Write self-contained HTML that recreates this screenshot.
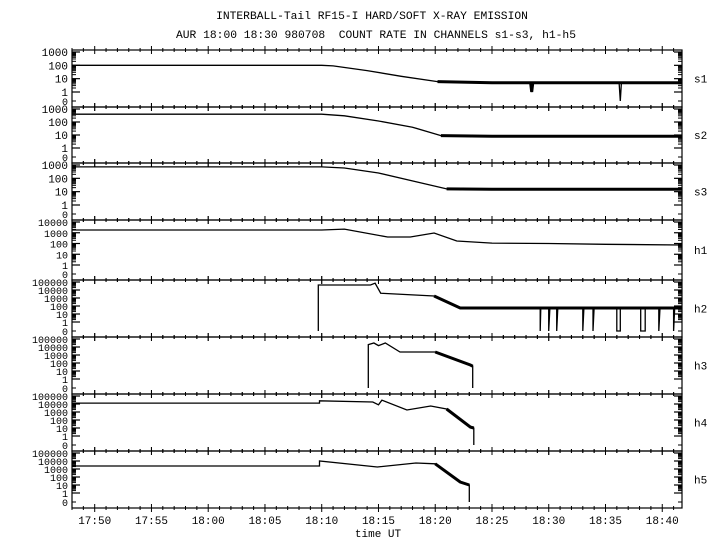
<!DOCTYPE html>
<html><head><meta charset="utf-8"><style>
html,body{margin:0;padding:0;background:#fff}
svg{display:block;font-family:"Liberation Mono","DejaVu Sans Mono",monospace}
</style></head><body>
<svg id="chart" width="720" height="550" viewBox="0 0 720 550" xmlns="http://www.w3.org/2000/svg">
<rect width="720" height="550" fill="#fff"/>
<text x="372" y="19" font-size="11.3" text-anchor="middle">INTERBALL-Tail RF15-I HARD/SOFT X-RAY EMISSION</text>
<text x="376" y="38" font-size="11.3" text-anchor="middle" xml:space="preserve">AUR 18:00 18:30 980708  COUNT RATE IN CHANNELS s1-s3, h1-h5</text>
<text x="378" y="537" font-size="11" text-anchor="middle">time UT</text>
<g id="plots"></g>
</svg>
<script>
// time axis: minutes relative to 18:00
const xTickLabels = ["17:50","17:55","18:00","18:05","18:10","18:15","18:20","18:25","18:30","18:35","18:40"];
const xTickMinutes = [-10,-5,0,5,10,15,20,25,30,35,40];
const channels = ["s1","s2","s3","h1","h2","h3","h4","h5"];
const decades = [3,3,3,4,5,5,5,5];
// each series: [minute, count] points
const s1T = [-12,10,11,14,17,20.2,25,28.4,28.5,28.6,30,36.2,36.3,36.4,41.7];
const s1V = [100,100,90,40,15,6,5,5,1,5,5,5,0,5,5];
const s2T = [-12,10,12,15,18,20.5,25,30,35,41.7];
const s2V = [400,400,300,120,40,9,8,8,8,8];
const s3T = [-12,10,12,15,18.5,21,25,30,35,41.7];
const s3V = [720,720,600,250,50,16,15,15,15,15];
const h1T = [-12,10,12,15.8,17.8,19.9,21.9,25,30,35,41.7];
const h1V = [1800,1800,2200,400,400,950,170,110,100,85,72];
const h2T = [9.7,9.7,14.3,14.7,15.2,19.9,22.2,25,29.25,29.25,29.3,30.0,30.0,30.1,30.7,30.7,30.8,33.0,33.0,33.1,33.9,33.9,34.0,36.0,36.0,36.3,36.3,36.4,38.1,38.1,38.5,38.5,38.6,39.7,39.7,39.8,41.0,41.0,41.1,41.7];
const h2V = [0,42000,42000,70000,4000,1800,56,56,56,0,56,56,0,56,56,0,56,56,0,56,56,0,56,56,0,0,56,56,56,0,0,56,56,56,0,56,56,0,56,56];
const h3T = [14.1,14.1,14.6,15.0,15.6,16.9,20,23.1,23.3,23.3];
const h3V = [0,20000,32000,15000,32000,2400,2400,56,40,0];
const h4T = [-12,9.8,9.8,14.5,15.0,15.3,17.5,19.6,21,23.1,23.4,23.4];
const h4V = [13000,13000,25000,18000,8000,30000,1800,5600,2400,13,10,0];
const h5T = [-12,9.8,9.8,14.9,18.3,20,22.2,23.0,23.0];
const h5V = [2400,2400,10000,1800,5600,4500,24,10,0];
const seriesT = [s1T,s2T,s3T,h1T,h2T,h3T,h4T,h5T];
const seriesV = [s1V,s2V,s3V,h1V,h2V,h3V,h4V,h5V];
// noisy region start (minutes) per channel (drawn with thicker band)
const noisyFrom = [20,20.5,21,99,19,20,20,20];

const NS="http://www.w3.org/2000/svg";
const panelTops=[50,107,163,220,280,337,394,451,508];
const X0=72,X1=682,T0=-12,T1=41.74;
function xs(t){return X0+(t-T0)*(X1-X0)/(T1-T0);}
function ys(p,v){
  const top=panelTops[p],bot=panelTops[p+1],n=decades[p];
  const yTopV=top+2,y1=bot-15,y0=bot-6;
  if(v<=0)return y0;
  if(v<1)return y0-(y0-y1)*v;
  return y1-(y1-yTopV)*Math.log10(v)/n;
}
function el(tag,attrs,parent){const e=document.createElementNS(NS,tag);for(const k in attrs)e.setAttribute(k,attrs[k]);parent.appendChild(e);return e;}
const root=document.getElementById('plots');

channels.forEach((ch,p)=>{
  const g=el('g',{},root);
  
  
  const top=panelTops[p],bot=panelTops[p+1];
  const frame=el('rect',{x:X0,y:top,width:X1-X0,height:bot-top,fill:'none',stroke:'#000','stroke-width':1.2},g);
  
  
  for(let m=-12;m<=41;m++){
    const x=xs(m);const major=(m%5===0);
    const L=major?4:2;
    el('line',{x1:x,x2:x,y1:top-L,y2:top+L,stroke:'#000','stroke-width':1},g);
    el('line',{x1:x,x2:x,y1:bot-L,y2:bot+L,stroke:'#000','stroke-width':1},g);
  }
  const n=decades[p];
  const yax=el('g',{},g);
  
  
  for(let d=0;d<=n;d++){
    const v=Math.pow(10,d);const y=ys(p,v);
    el('line',{x1:X0,x2:X0+8,y1:y,y2:y,stroke:'#000','stroke-width':1.2},yax);
    el('line',{x1:X1-8,x2:X1,y1:y,y2:y,stroke:'#000','stroke-width':1.2},yax);
    const lab=el('text',{x:X0-4,y:y+4,'font-size':(n>=4?10:11),'text-anchor':'end'},yax);
    lab.textContent=String(v);
    
    
    if(d<n){for(let k=2;k<=9;k++){const yy=ys(p,v*k);
      el('line',{x1:X0,x2:X0+4,y1:yy,y2:yy,stroke:'#000','stroke-width':1},yax);
      el('line',{x1:X1-4,x2:X1,y1:yy,y2:yy,stroke:'#000','stroke-width':1},yax);}}
  }
  const zy=ys(p,0);
  el('line',{x1:X0,x2:X0+4,y1:zy,y2:zy,stroke:'#000'},yax);
  el('line',{x1:X1-4,x2:X1,y1:zy,y2:zy,stroke:'#000'},yax);
  const zl=el('text',{x:X0-4,y:zy+4,'font-size':10,'text-anchor':'end'},yax);
  zl.textContent='0';
  
  
  const cl=el('text',{x:694,y:(top+bot)/2+4,'font-size':11},g);
  cl.textContent=ch;
  
  
  const T=seriesT[p],V=seriesV[p];
  const pts=T.map((t,i)=>xs(t).toFixed(1)+','+ys(p,V[i]).toFixed(1)).join(' ');
  const line=el('polyline',{points:pts,fill:'none',stroke:'#000','stroke-width':1.3},g);
  
  
  const nf=noisyFrom[p];
  const idx=T.map((t,i)=>i).filter(i=>T[i]>=nf&&V[i]>0);
  if(idx.length>1){
    const bp=idx.map(i=>xs(T[i]).toFixed(1)+','+ys(p,V[i]).toFixed(1)).join(' ');
    const band=el('polyline',{points:bp,fill:'none',stroke:'#000','stroke-width':3},g);
    
    
  }
});
xTickLabels.forEach((lab,i)=>{
  const t=el('text',{x:xs(xTickMinutes[i]),y:524,'font-size':11,'text-anchor':'middle'},root);
  t.textContent=lab;
  
  
});
</script>
</body></html>
